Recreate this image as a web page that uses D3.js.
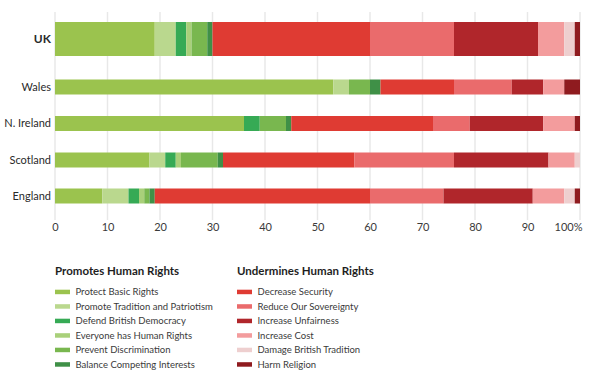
<!DOCTYPE html>
<html><head><meta charset="utf-8">
<script src="https://cdn.jsdelivr.net/npm/d3@7"></script>
<style>
body{margin:0;background:#fff;}
text{font-family:Lato,"Open Sans",sans-serif;}
</style></head>
<body><svg id="c" width="600" height="379"></svg>
<script>
const categories = ["UK","Wales","N. Ireland","Scotland","England"];
const promoteSeries = ["Protect Basic Rights","Promote Tradition and Patriotism","Defend British Democracy","Everyone has Human Rights","Prevent Discrimination","Balance Competing Interests"];
const undermineSeries = ["Decrease Security","Reduce Our Sovereignty","Increase Unfairness","Increase Cost","Damage British Tradition","Harm Religion"];
const promoteColors = ["#9bc34e","#bad88e","#36aa55","#a9d07a","#79b74f","#3f9047"];
const undermineColors = ["#df3b33","#ea6b6c","#b0262b","#f39c9d","#eecfcf","#8f1b1f"];
// values per category, in series order (percent)
const protectBasicRights      = [19, 53, 36, 18, 9];
const promoteTradition        = [4, 3, 0, 3, 5];
const defendDemocracy         = [2, 0, 3, 2, 2];
const everyoneHasRights       = [1, 0, 0, 1, 1];
const preventDiscrimination   = [3, 4, 5, 7, 1];
const balanceInterests        = [1, 2, 1, 1, 1];
const decreaseSecurity        = [30, 14, 27, 25, 41];
const reduceSovereignty       = [16, 11, 7, 19, 14];
const increaseUnfairness      = [16, 6, 14, 18, 17];
const increaseCost            = [5, 4, 6, 5, 6];
const damageTradition         = [2, 0, 0, 1, 2];
const harmReligion            = [1, 3, 1, 0, 1];
const tickValues = [0,10,20,30,40,50,60,70,80,90,100];

const seriesNames = promoteSeries.concat(undermineSeries);
const seriesColors = promoteColors.concat(undermineColors);
const seriesValues = [protectBasicRights,promoteTradition,defendDemocracy,everyoneHasRights,preventDiscrimination,balanceInterests,
  decreaseSecurity,reduceSovereignty,increaseUnfairness,increaseCost,damageTradition,harmReligion];

const rows = categories.map((c,i)=>{const o={cat:c}; seriesNames.forEach((s,j)=>o[s]=seriesValues[j][i]); return o;});
const stacked = d3.stack().keys(seriesNames)(rows);

const svg = d3.select("#c");
const x = d3.scaleLinear().domain([0,100]).range([55,580]);
const yc = d3.scaleOrdinal().domain(categories).range([39,87,123.5,160,196]);
const bh = d3.scaleOrdinal().domain(categories).range([34,15,15,15,15]);

// grid
svg.append("g").selectAll("line").data(tickValues).join("line")
  .attr("x1",d=>x(d)).attr("x2",d=>x(d)).attr("y1",12).attr("y2",220)
  .attr("stroke","#e8e8e8").attr("stroke-width",1.5);

// bars
const color = d3.scaleOrdinal().domain(seriesNames).range(seriesColors);
svg.append("g").selectAll("g").data(stacked).join("g")
  .attr("fill",d=>color(d.key))
  .selectAll("rect").data(d=>d).join("rect")
  .attr("x",d=>x(d[0])).attr("width",d=>Math.max(0,x(d[1])-x(d[0])))
  .attr("y",d=>yc(d.data.cat)-bh(d.data.cat)/2).attr("height",d=>bh(d.data.cat));

// category labels
svg.append("g").selectAll("text").data(categories).join("text")
  .attr("x",51).attr("y",d=>yc(d)).attr("dy","0.35em").attr("text-anchor","end")
  .attr("font-size",d=>d==="UK"?12:11).attr("fill","#2a2a2a")
  .attr("font-weight",d=>d==="UK"?"bold":"normal").text(d=>d);

// x axis
const axis = d3.axisBottom(x).tickValues(tickValues).tickSize(0).tickPadding(0)
  .tickFormat(d=>d===100?"100%":d);
const ag = svg.append("g").attr("transform","translate(0,223)").call(axis);
ag.select(".domain").remove();
ag.selectAll("text").attr("font-size",11).attr("fill","#3a3a3a").attr("font-family","Lato,sans-serif")
  .attr("text-anchor",d=>d===100?"end":"middle").attr("dx",d=>d===100?2:0);

// legends
function legend(x0, title, names, cols){
  const g = svg.append("g");
  g.append("text").attr("x",x0).attr("y",275).attr("font-size",11.5).attr("font-weight","bold").attr("fill","#1e1e1e").text(title);
  const it = g.selectAll("g").data(names).join("g")
    .attr("transform",(d,i)=>`translate(${x0},${291.7+i*14.5})`);
  it.append("rect").attr("x",0).attr("y",-2).attr("width",15).attr("height",4.5).attr("fill",(d,i)=>cols[i]);
  it.append("text").attr("x",20.5).attr("y",0).attr("dy","0.35em").attr("font-size",9.5).attr("fill","#3a3a3a").text(d=>d);
}
legend(55,"Promotes Human Rights",promoteSeries,promoteColors);
legend(237,"Undermines Human Rights",undermineSeries,undermineColors);
</script></body></html>
